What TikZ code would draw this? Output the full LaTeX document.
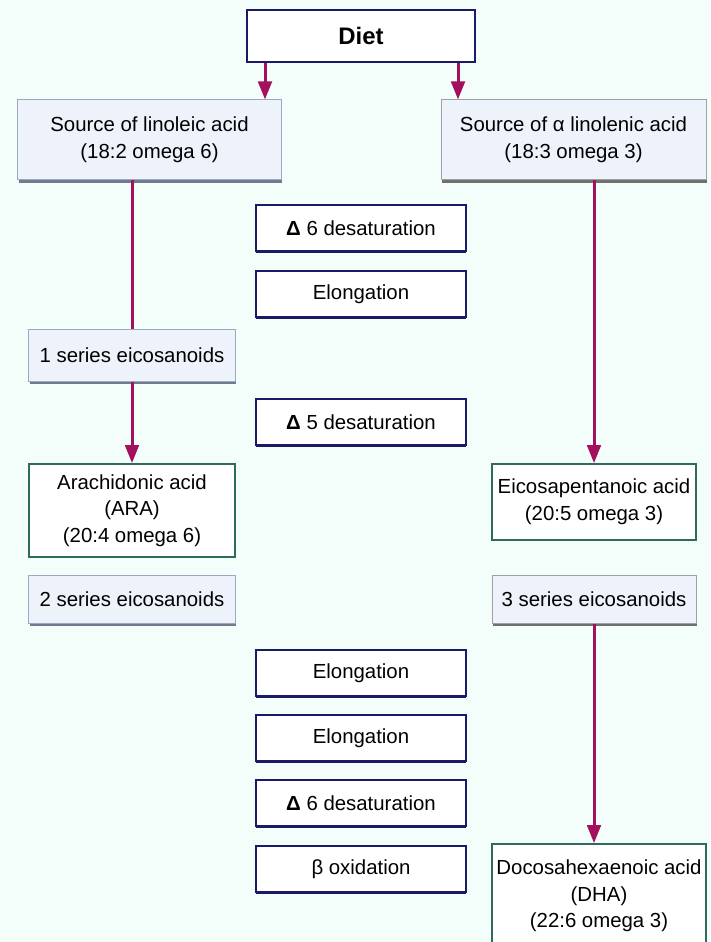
\documentclass[tikz,border=0pt]{standalone}
\usepackage{fontspec}
\setmainfont{Liberation Sans}
\usetikzlibrary{arrows.meta,shadows}
\definecolor{bgmint}{HTML}{F3FDF9}
\definecolor{navy}{HTML}{1A1A66}
\definecolor{paleblue}{HTML}{EEF3FB}
\definecolor{blueline}{HTML}{9AA8C0}
\definecolor{blueshade}{HTML}{6F7C90}
\definecolor{greyline}{HTML}{A0A0A0}
\definecolor{greyshade}{HTML}{707070}
\definecolor{acidgreen}{HTML}{2F6B5B}
\definecolor{flowred}{HTML}{A3105E}

\begin{document}
\begin{tikzpicture}[x=0.25mm, y=-0.25mm]
\tikzstyle{every node}+=[inner sep=0pt, align=center, font=\fontsize{14.5}{19}\selectfont]
\tikzstyle{dietbox}=[draw=navy, line width=0.6mm, fill=white, minimum width=57mm, minimum height=13mm,
  font=\fontsize{17}{20}\selectfont\bfseries,
  drop shadow={shadow xshift=0.25mm, shadow yshift=-0.3mm, opacity=1, fill=navy}]
\tikzstyle{stepbox}=[draw=navy, line width=0.45mm, fill=white, minimum width=52.5mm, minimum height=11.5mm,
  drop shadow={shadow xshift=0.1mm, shadow yshift=-0.45mm, opacity=1, fill=navy}]
\tikzstyle{srcbox}=[draw=blueline, line width=0.25mm, fill=paleblue,
  drop shadow={shadow xshift=0.2mm, shadow yshift=-0.7mm, opacity=1, fill=blueshade}]
\tikzstyle{srcgrey}=[srcbox, draw=greyline,
  drop shadow={shadow xshift=0.2mm, shadow yshift=-0.7mm, opacity=1, fill=greyshade}]
\tikzstyle{acidbox}=[draw=acidgreen, line width=0.45mm, fill=white,
  drop shadow={shadow xshift=0.15mm, shadow yshift=-0.35mm, opacity=1, fill=acidgreen}]
\tikzstyle{flow}=[draw=flowred, line width=0.75mm, -{Triangle[length=4.5mm,width=3.4mm]}]
\tikzstyle{plain}=[draw=flowred, line width=0.75mm]

\clip (0,0) rectangle (710,942);
\fill[bgmint] (0,0) rectangle (710,942);

% top
\node[dietbox] (diet) at (361,36) {Diet};
\node[srcbox, minimum width=65.75mm, minimum height=20mm] (srcL) at (149.5,140)
  {Source of linoleic acid\\(18:2 omega 6)};
\node[srcgrey, minimum width=66.25mm, minimum height=20mm] (srcR) at (573.5,140)
  {Source of α linolenic acid\\(18:3 omega 3)};

% omega 6 side
\node[srcbox, minimum width=51.5mm, minimum height=12.75mm] (ser1) at (132,355.5) {1 series eicosanoids};
\node[acidbox, minimum width=51.5mm, minimum height=23.25mm] (ara) at (132,510.5)
  {Arachidonic acid\\(ARA)\\(20:4 omega 6)};
\node[srcbox, minimum width=51.5mm, minimum height=12mm] (ser2) at (132,599) {2 series eicosanoids};

% omega 3 side
\node[acidbox, minimum width=51mm, minimum height=19mm] (epa) at (594,502)
  {Eicosapentanoic acid\\(20:5 omega 3)};
\node[srcgrey, minimum width=51mm, minimum height=12mm] (ser3) at (594,599) {3 series eicosanoids};
\node[acidbox, minimum width=53.5mm, minimum height=26mm] (dha) at (599,896)
  {Docosahexaenoic acid\\(DHA)\\(22:6 omega 3)};

% enzyme steps
\node[stepbox] (des6a) at (361,228) {\textbf{Δ} 6 desaturation};
\node[stepbox] (elo1) at (361,294) {Elongation};
\node[stepbox] (des5) at (361,422) {\textbf{Δ} 5 desaturation};
\node[stepbox] (elo2) at (361,673) {Elongation};
\node[stepbox] (elo3) at (361,738) {Elongation};
\node[stepbox] (des6b) at (361,803) {\textbf{Δ} 6 desaturation};
\node[stepbox] (boxi) at (361,869) {β oxidation};

% connectors
\draw[flow] ([xshift=-24mm]diet.south) -- ([xshift=-24mm]diet.south |- srcL.north);
\draw[flow] ([xshift=24.25mm]diet.south) -- ([xshift=24.25mm]diet.south |- srcR.north);
\draw[plain] (ser1.north |- srcL.south) -- (ser1.north);
\draw[flow] (ser1.south) -- (ara.north);
\draw[flow] (epa.north |- srcR.south) -- (epa.north);
\draw[flow] (ser3.south) -- (ser3.south |- dha.north);
\end{tikzpicture}
\end{document}
